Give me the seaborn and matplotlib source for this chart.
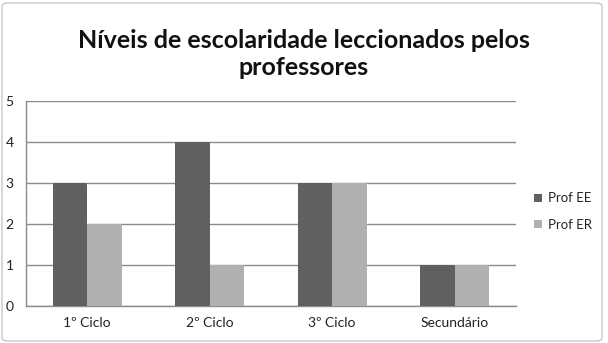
import matplotlib
matplotlib.use("Agg")
import matplotlib.pyplot as plt
import seaborn as sns
import pandas as pd
from matplotlib.patches import FancyBboxPatch

categories = ["1º Ciclo", "2º Ciclo", "3º Ciclo", "Secundário"]
series_names = ["Prof EE", "Prof ER"]
prof_ee = [3, 4, 3, 1]
prof_er = [2, 1, 3, 1]
yticks = [0, 1, 2, 3, 4, 5]
title = "Níveis de escolaridade leccionados pelos\nprofessores"

df = pd.DataFrame({
    "Nível": categories * 2,
    "Valor": prof_ee + prof_er,
    "Série": [series_names[0]] * len(categories) + [series_names[1]] * len(categories),
})

sns.set_theme(style="white")
plt.rcParams['font.family'] = ['Lato', 'DejaVu Sans']

fig = plt.figure(figsize=(6.08, 3.43), dpi=100)
ax = fig.add_axes([26/608, 1 - 306/343, (516-26)/608, (306-101)/343])

sns.barplot(data=df, x="Nível", y="Valor", hue="Série",
            palette=["#606060", "#b0b0b0"], width=0.565, ax=ax,
            saturation=1, edgecolor="none", zorder=3)

ax.set_ylim(0, 5)
ax.set_xlim(-0.5, 3.5)
ax.set_yticks(yticks)
ax.set_yticklabels([str(v) for v in yticks], fontsize=10, color="#222222")
ax.tick_params(axis='x', labelsize=10, colors="#222222", length=0, pad=8)
ax.tick_params(axis='y', length=0, pad=9)
ax.set_xlabel("")
ax.set_ylabel("")
ax.yaxis.grid(True, color="#8c8c8c", linewidth=1.0, zorder=0)
ax.set_axisbelow(True)
for s in ["top", "right"]:
    ax.spines[s].set_visible(False)
for s in ["left", "bottom"]:
    ax.spines[s].set_color("#8c8c8c")
    ax.spines[s].set_linewidth(1.0)

leg = ax.legend(loc="center left", bbox_to_anchor=(1.012, 0.46), frameon=False,
                fontsize=9.5, handlelength=0.6, handleheight=0.6,
                handletextpad=0.5, labelspacing=1.1)

fig.text(0.5, 1 - 54/343, title, ha="center", va="center", fontsize=18,
         fontweight="bold", color="#111111", linespacing=1.25)

border = FancyBboxPatch((2/608, 2/343), 1 - 8/608, 1 - 5/343,
                        boxstyle="round,pad=0,rounding_size=0.01",
                        transform=fig.transFigure, fill=False,
                        edgecolor="#c8c8c8", linewidth=1.0)
fig.patches.append(border)

fig.savefig("out.png", dpi=100)
